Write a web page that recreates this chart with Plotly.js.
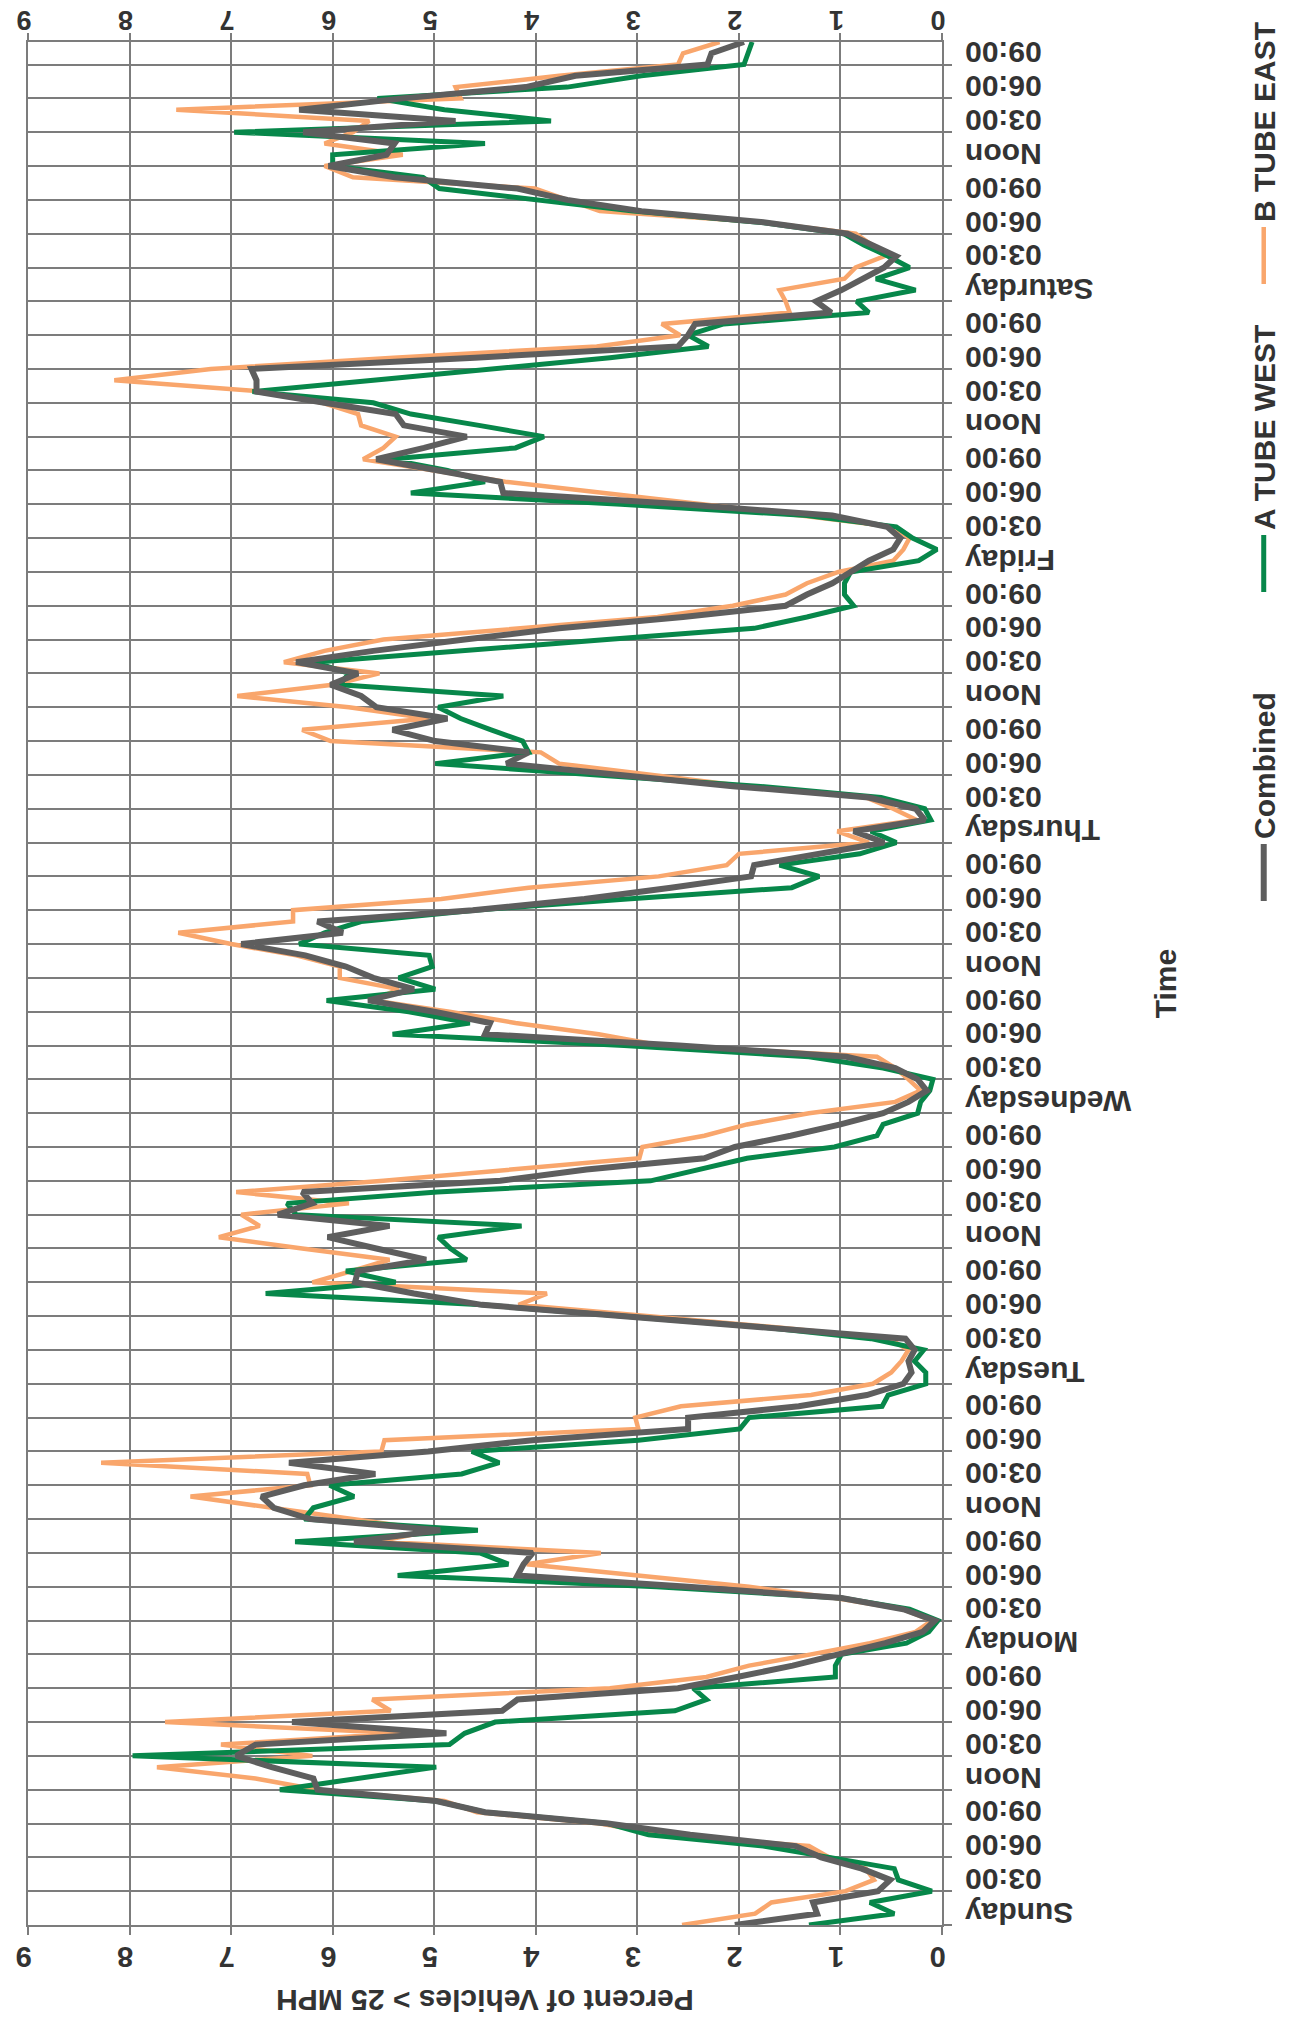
<!DOCTYPE html>
<html>
<head>
<meta charset="utf-8">
<script src="https://cdn.plot.ly/plotly-3.0.1.min.js"></script>
<style>
  html, body { margin: 0; padding: 0; background: #fff; overflow: hidden; }
  body { width: 1298px; height: 2017px; position: relative; }
  /* the chart is drawn landscape and turned a quarter left, like the scan */
  #chart { position: absolute; left: 0; top: 0; width: 2017px; height: 1298px;
           transform-origin: 0 0; transform: translateY(2017px) rotate(-90deg); }
</style>
</head>
<body>
<div id="chart"></div>
<script>
// one value per hour, Sunday 00:00 .. Saturday 23:00
var combined = [
  2.04,1.23,1.27,0.63,0.51,0.79,1.19,1.44,2.48,3.29,4.50,4.98,6.15,6.19,6.60,6.95,6.76,4.88,6.40,4.33,4.18,2.60,2.02,1.47,
  1.02,0.56,0.19,0.07,0.38,0.99,2.50,4.18,4.12,4.03,5.79,4.94,6.22,6.58,6.70,6.28,5.58,6.43,5.06,4.03,2.50,2.50,1.41,0.74,
  0.38,0.30,0.33,0.27,0.36,1.73,3.07,4.53,5.20,5.78,5.75,5.08,5.57,6.05,5.44,6.54,6.20,6.30,4.35,3.50,2.34,2.04,1.49,1.00,
  0.58,0.33,0.15,0.24,0.46,0.94,2.59,4.50,4.45,5.00,5.65,5.20,5.60,5.87,6.27,6.90,5.90,6.15,4.62,3.52,2.67,1.88,1.85,1.20,
  0.57,0.87,0.17,0.26,0.72,2.06,3.16,4.29,4.07,4.99,5.41,4.87,5.57,5.72,6.02,5.75,6.36,5.60,4.70,3.77,2.55,1.54,1.33,1.08,
  0.90,0.72,0.48,0.41,0.54,1.08,2.55,4.32,4.35,5.00,5.57,5.10,4.68,5.30,5.38,6.08,6.75,6.75,6.80,4.60,2.60,2.50,2.43,1.09,
  1.24,0.99,0.78,0.57,0.45,0.69,0.93,1.74,2.96,3.69,4.18,5.39,6.04,5.47,5.39,6.29,4.79,6.33,5.31,4.10,3.61,2.31,2.27,1.95
];
var tubeWest = [
  1.31,0.47,0.71,0.10,0.43,0.47,1.11,1.76,2.89,3.29,4.50,4.98,6.52,5.75,4.98,7.97,4.85,4.70,4.40,2.63,2.32,2.45,1.05,1.05,
  0.99,0.35,0.13,0.04,0.32,0.99,2.81,5.36,4.27,4.55,6.37,4.57,6.28,6.19,5.79,6.03,4.73,4.36,4.63,2.99,1.99,1.90,0.59,0.53,
  0.16,0.16,0.27,0.18,0.70,1.73,3.13,4.53,6.66,5.38,5.87,4.68,4.84,4.96,4.14,6.36,6.45,4.97,2.87,2.40,1.92,1.06,0.64,0.58,
  0.24,0.21,0.12,0.09,0.58,1.31,3.13,5.41,4.65,5.25,6.06,4.99,5.35,5.02,5.05,6.33,6.08,5.72,4.60,3.10,1.48,1.21,1.60,0.81,
  0.45,0.70,0.11,0.17,0.60,1.82,3.40,4.99,4.07,4.13,4.44,4.74,4.96,4.32,5.93,5.84,6.18,4.80,3.30,1.85,1.33,0.87,0.96,0.96,
  0.90,0.23,0.05,0.29,0.45,1.33,3.16,5.23,4.50,4.87,5.45,4.20,3.92,4.56,5.23,5.60,6.79,5.60,4.45,3.27,2.30,2.50,2.15,0.72,
  0.84,0.26,0.65,0.32,0.53,0.77,0.97,1.78,3.04,4.01,4.95,5.11,6.00,6.00,4.50,6.97,3.85,4.90,5.56,3.69,2.96,1.95,1.91,1.87
];
var tubeEast = [
  2.56,1.84,1.68,0.95,0.67,0.75,1.11,1.31,2.73,3.37,4.58,4.90,6.15,6.76,7.73,6.20,7.10,5.30,7.65,5.43,5.61,3.27,2.32,1.90,
  1.29,0.71,0.26,0.10,0.38,1.05,1.90,3.05,4.09,3.36,5.55,5.00,5.79,6.58,7.40,6.22,6.25,8.28,5.52,5.49,2.99,3.02,2.57,1.29,
  0.68,0.50,0.40,0.33,0.52,1.61,2.83,4.17,3.89,6.20,5.81,5.44,6.30,7.12,6.72,6.90,5.84,6.95,5.50,4.29,2.98,2.95,2.34,1.92,
  1.31,0.46,0.21,0.33,0.46,0.64,2.77,3.38,4.20,4.85,5.60,5.35,5.93,5.93,6.36,7.00,7.52,6.39,6.39,4.93,4.07,2.79,2.12,2.00,
  0.72,1.03,0.25,0.48,0.75,1.94,2.85,3.77,3.95,6.02,6.30,5.05,5.84,6.94,6.00,5.54,6.48,6.08,5.50,4.20,2.80,2.06,1.54,1.33,
  1.02,0.48,0.38,0.32,0.48,1.39,2.33,3.28,4.30,5.00,5.70,5.50,5.38,5.72,5.75,6.10,6.70,8.15,7.20,5.40,3.40,2.58,2.76,1.50,
  1.54,1.60,0.96,0.85,0.57,0.69,0.85,1.74,3.37,3.69,4.01,5.80,6.08,5.31,6.08,5.80,5.64,7.54,4.74,4.79,3.77,2.60,2.55,2.19
];

var days = ['Sunday','Monday','Tuesday','Wednesday','Thursday','Friday','Saturday'];
var hourNames = ['', '03:00', '06:00', '09:00', 'Noon', '03:00', '06:00', '09:00'];

var FONT = 'Liberation Sans, Arial, sans-serif';
var INK = '#333333';
var GRID = '#7c7c7c';

// hour index of each point
var hours = [];
for (var i = 0; i < combined.length; i++) hours.push(i);

// gridlines every 3 hours, labels sit a little after their gridline
var gridVals = [], labelVals = [], labelText = [];
for (var d = 0; d < days.length; d++) {
  for (var k = 0; k < hourNames.length; k++) {
    var h = d * 24 + k * 3;
    gridVals.push(h);
    labelVals.push(h + 1.1);
    labelText.push(k == 0 ? days[d] : hourNames[k]);
  }
}

var lineEast = {
  x: hours, y: tubeEast, type: 'scatter', mode: 'lines', name: 'B TUBE EAST',
  legend: 'legend3', line: {color: '#F9A66C', width: 4.5}
};
var lineWest = {
  x: hours, y: tubeWest, type: 'scatter', mode: 'lines', name: 'A TUBE WEST',
  legend: 'legend2', line: {color: '#07874A', width: 5}
};
var lineComb = {
  x: hours, y: combined, type: 'scatter', mode: 'lines', name: 'Combined',
  legend: 'legend', line: {color: '#5E5E5E', width: 6}
};
// empty trace so the label axis (bottom) and the right value axis get drawn
var axisHolder = {
  x: [], y: [], type: 'scatter', mode: 'lines', xaxis: 'x2', yaxis: 'y2',
  showlegend: false, hoverinfo: 'skip'
};

var bold = function(size) { return {family: FONT, size: size, color: INK, weight: 'bold'}; };
var legendAt = function(x) {
  return {orientation: 'h', x: x, xanchor: 'left', y: -0.352, yanchor: 'middle',
          itemwidth: 57, font: bold(30), bgcolor: 'rgba(0,0,0,0)'};
};

var layout = {
  width: 2017, height: 1298,
  margin: {l: 92, r: 42, t: 28, b: 356, pad: 0, autoexpand: false},
  paper_bgcolor: '#ffffff', plot_bgcolor: '#ffffff',
  font: bold(30),
  showlegend: true,
  legend: legendAt(0.5412),
  legend2: legendAt(0.7052),
  legend3: legendAt(0.8688),
  xaxis: {
    range: [0, 167], tickmode: 'array', tickvals: gridVals, showticklabels: false,
    showgrid: true, gridcolor: GRID, gridwidth: 2,
    ticks: 'outside', ticklen: 8, tickwidth: 2, tickcolor: GRID,
    showline: true, linecolor: GRID, linewidth: 2, mirror: true, zeroline: false
  },
  xaxis2: {
    overlaying: 'x', side: 'bottom', anchor: 'y', range: [0, 167],
    tickmode: 'array', tickvals: labelVals, ticktext: labelText, tickangle: -90,
    tickfont: bold(30), ticklabelstandoff: 16,
    showgrid: false, ticks: '', showline: false, zeroline: false,
    title: {text: 'Time', font: bold(30), standoff: 24}
  },
  yaxis: {
    range: [0, 9], tick0: 0, dtick: 1, tickangle: -90, tickfont: bold(29),
    showgrid: true, gridcolor: GRID, gridwidth: 2,
    ticks: 'outside', ticklen: 8, tickwidth: 2, tickcolor: GRID,
    showline: true, linecolor: GRID, linewidth: 2, mirror: true, zeroline: false,
    title: {text: 'Percent of Vehicles > 25 MPH', font: bold(30), standoff: 8}
  },
  yaxis2: {
    overlaying: 'y', side: 'right', anchor: 'x', range: [0, 9], tick0: 0, dtick: 1,
    tickangle: -90, tickfont: bold(27), ticklabelstandoff: -10, showgrid: false,
    ticks: 'outside', ticklen: 8, tickwidth: 2, tickcolor: GRID,
    showline: false, zeroline: false
  }
};

Plotly.newPlot('chart', [lineEast, lineWest, lineComb, axisHolder], layout,
  {displayModeBar: false, staticPlot: true});
</script>
</body>
</html>
